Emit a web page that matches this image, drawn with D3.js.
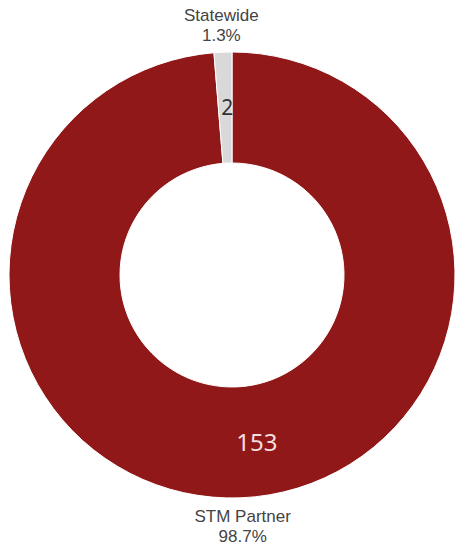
<!DOCTYPE html>
<html>
<head>
<meta charset="utf-8">
<script src="https://cdn.jsdelivr.net/npm/d3@7"></script>
<style>
  html, body { margin: 0; padding: 0; background: #fff; }
  svg { display: block; }
</style>
</head>
<body>
<svg id="chart" width="456" height="546"></svg>
<script>
// data
const categories = ["STM Partner", "Statewide"];
const counts = [153, 2];
const percentLabels = ["98.7%", "1.3%"];
const colors = ["#911818", "#d9d9d9"];

const width = 456, height = 546;
const cx = 232, cy = 275;
const outerR = 223, innerR = 112;

const svg = d3.select("#chart");
const g = svg.append("g").attr("transform", `translate(${cx},${cy})`);

const slices = categories.map((c, i) => ({ name: c, value: counts[i], pct: percentLabels[i], color: colors[i] }));

const pie = d3.pie().sort(null).value(d => d.value);
const arc = d3.arc().innerRadius(innerR).outerRadius(outerR);
const arcs = pie(slices);

g.selectAll("path.slice")
  .data(arcs)
  .join("path")
  .attr("class", "slice")
  .attr("d", arc)
  .attr("fill", d => d.data.color)
  .attr("stroke", "#fff")
  .attr("stroke-width", 1);

// value labels inside the ring
const valueOffsets = [[18, 0], [2, 0]]; // nudges, the 153 sits right of the centroid
g.selectAll("text.value")
  .data(arcs)
  .join("text")
  .attr("class", "value")
  .attr("x", (d, i) => arc.centroid(d)[0] + valueOffsets[i][0])
  .attr("y", (d, i) => arc.centroid(d)[1] + valueOffsets[i][1])
  .attr("dy", "0.35em")
  .attr("text-anchor", "middle")
  .style("font-family", "'Noto Sans', sans-serif")
  .style("font-size", (d, i) => i === 0 ? "24px" : "21px")
  .style("fill", (d, i) => i === 0 ? "#f3dede" : "#333")
  .text(d => d.data.value);

// category labels outside the ring, name on one line and percent below
arcs.forEach(d => {
  const mid = (d.startAngle + d.endAngle) / 2;
  const x = Math.sin(mid) * (outerR + 40);
  const atTop = Math.cos(mid) > 0;
  const y0 = atTop ? -outerR - 31 : outerR + 24;
  [d.data.name, d.data.pct].forEach((s, k) => {
    g.append("text")
      .attr("x", x)
      .attr("y", y0 + k * 19.5)
      .attr("text-anchor", "middle")
      .style("font-family", "'Liberation Sans', Arial, sans-serif")
      .style("font-size", "17px")
      .style("fill", "#444")
      .text(s);
  });
});
</script>
</body>
</html>
